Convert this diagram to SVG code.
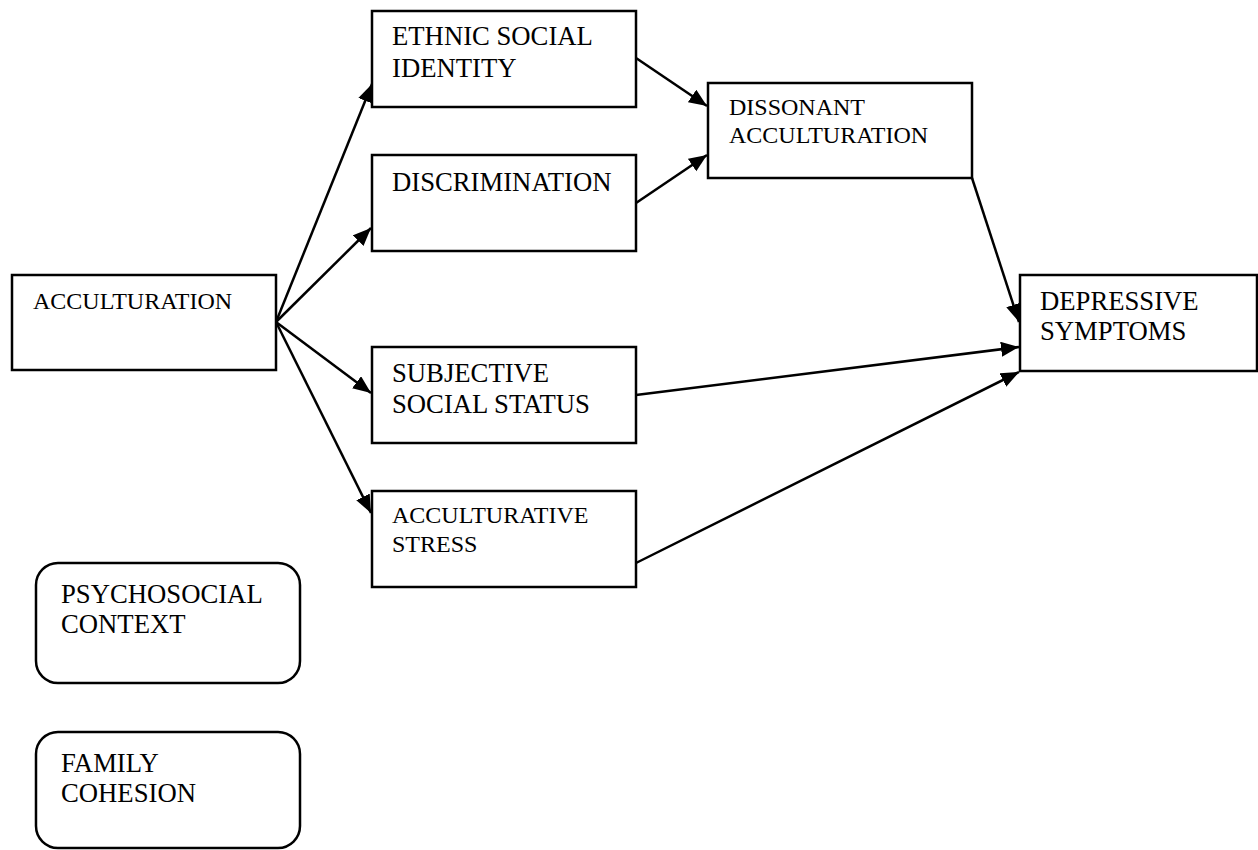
<svg xmlns="http://www.w3.org/2000/svg" width="1258" height="850" viewBox="0 0 1258 850">
  <style>
    .box { fill: #fff; stroke: #000; stroke-width: 2.5; }
    text { font-family: 'Liberation Serif', 'Times New Roman', 'DejaVu Serif', serif; font-size: 26.7px; fill: #000; }
    .sm { font-size: 24px; }
    .edge { stroke: #000; stroke-width: 2.5; fill: none; marker-end: url(#arrow); }
  </style>
  <defs>
    <marker id="arrow" markerUnits="userSpaceOnUse" markerWidth="20" markerHeight="16" refX="18" refY="7.5" orient="auto">
      <path d="M0,0 L18,7.5 L0,15 Z" fill="#000"/>
    </marker>
  </defs>
  <rect width="1258" height="850" fill="#fff"/>

  <g id="connectors">
    <line class="edge" x1="276" y1="322" x2="372" y2="84"/>
    <line class="edge" x1="276" y1="322" x2="371" y2="228"/>
    <line class="edge" x1="276" y1="322" x2="371" y2="393"/>
    <line class="edge" x1="276" y1="322" x2="371" y2="513"/>
    <line class="edge" x1="636" y1="58" x2="707" y2="106"/>
    <line class="edge" x1="636" y1="203" x2="707" y2="155"/>
    <line class="edge" x1="972" y1="178" x2="1019" y2="322"/>
    <line class="edge" x1="636" y1="395" x2="1019" y2="347"/>
    <line class="edge" x1="636" y1="563" x2="1019" y2="372"/>
  </g>

  <g id="acculturation">
    <rect class="box" x="12" y="275" width="264" height="95"/>
    <text class="sm" x="33" y="309">ACCULTURATION</text>
  </g>

  <g id="ethnic-social-identity">
    <rect class="box" x="372" y="11" width="264" height="96"/>
    <text x="392" y="45">ETHNIC SOCIAL</text>
    <text x="392" y="77">IDENTITY</text>
  </g>

  <g id="discrimination">
    <rect class="box" x="372" y="155" width="264" height="96"/>
    <text x="392" y="191">DISCRIMINATION</text>
  </g>

  <g id="subjective-social-status">
    <rect class="box" x="372" y="347" width="264" height="96"/>
    <text x="392" y="382">SUBJECTIVE</text>
    <text x="392" y="413">SOCIAL STATUS</text>
  </g>

  <g id="acculturative-stress">
    <rect class="box" x="372" y="491" width="264" height="96"/>
    <text class="sm" x="392" y="523">ACCULTURATIVE</text>
    <text class="sm" x="392" y="552">STRESS</text>
  </g>

  <g id="dissonant-acculturation">
    <rect class="box" x="708" y="83" width="264" height="95"/>
    <text class="sm" x="729" y="115">DISSONANT</text>
    <text class="sm" x="729" y="143">ACCULTURATION</text>
  </g>

  <g id="depressive-symptoms">
    <rect class="box" x="1020" y="275" width="237" height="96"/>
    <text x="1040" y="310">DEPRESSIVE</text>
    <text x="1040" y="340">SYMPTOMS</text>
  </g>

  <g id="psychosocial-context">
    <rect class="box" x="36" y="563" width="264" height="120" rx="22" ry="22"/>
    <text x="61" y="603">PSYCHOSOCIAL</text>
    <text x="61" y="633">CONTEXT</text>
  </g>

  <g id="family-cohesion">
    <rect class="box" x="36" y="732" width="264" height="116" rx="22" ry="22"/>
    <text x="61" y="772">FAMILY</text>
    <text x="61" y="802">COHESION</text>
  </g>
</svg>
